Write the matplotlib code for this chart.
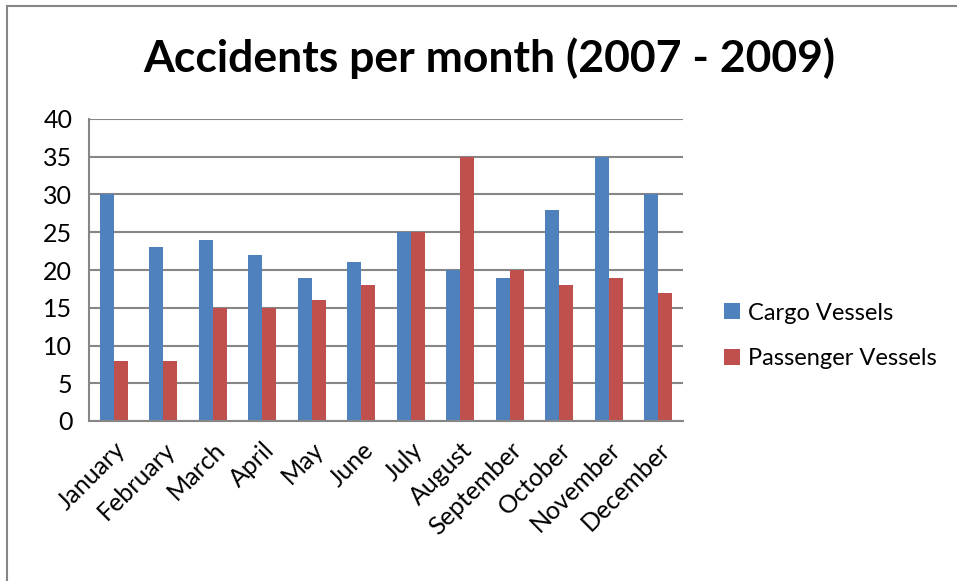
import numpy as np
import matplotlib.pyplot as plt
from matplotlib.patches import Rectangle

months = ["January", "February", "March", "April", "May", "June", "July",
          "August", "September", "October", "November", "December"]
cargo = [30, 23, 24, 22, 19, 21, 25, 20, 19, 28, 35, 30]
passenger = [8, 8, 15, 15, 16, 18, 25, 35, 20, 18, 19, 17]
yticks = [0, 5, 10, 15, 20, 25, 30, 35, 40]

plt.rcParams["font.family"] = ["Lato", "DejaVu Sans"]

fig = plt.figure(figsize=(9.57, 5.81), dpi=100)
ax = fig.add_axes([89 / 957, 1 - 421 / 581, (683 - 89) / 957, (421 - 119) / 581])

# Excel-like border (left and top visible)
top = 1 - 6 / 581
fig.add_artist(Rectangle((7 / 957, -0.2), 1.3, top + 0.2,
                         transform=fig.transFigure, fill=False,
                         edgecolor="#868686", linewidth=1.5))

x = np.arange(len(months))
w = 0.283
ax.bar(x - w / 2, cargo, w, color="#4F81BD", label="Cargo Vessels", zorder=3)
ax.bar(x + w / 2, passenger, w, color="#C0504D", label="Passenger Vessels", zorder=3)

ax.set_xlim(-0.5, len(months) - 0.5)
ax.set_ylim(0, 40)
ax.set_yticks(yticks)
ax.set_yticklabels([str(v) for v in yticks], fontsize=18)
ax.set_xticks(x)
ax.set_xticklabels(months, rotation=45, ha="right", va="top",
                   rotation_mode="anchor", fontsize=18)
ax.tick_params(length=0, pad=12)
ax.tick_params(axis="x", pad=12)

ax.grid(axis="y", color="#868686", linewidth=1.5, zorder=0)
for s in ["top", "right"]:
    ax.spines[s].set_visible(False)
for s in ["left", "bottom"]:
    ax.spines[s].set_color("#868686")
    ax.spines[s].set_linewidth(1.5)
    ax.spines[s].set_zorder(4)

fig.text(489 / 957, 1 - 58 / 581, "Accidents per month (2007 - 2009)",
         ha="center", va="center", fontsize=32, fontweight="bold")

ax.legend(loc="center left", bbox_to_anchor=(703 / 957, 1 - 336 / 581),
          bbox_transform=fig.transFigure, frameon=False,
          fontsize=17, handlelength=0.65, handleheight=0.65, handletextpad=0.35,
          labelspacing=1.05)

fig.savefig("out.png", dpi=100)
